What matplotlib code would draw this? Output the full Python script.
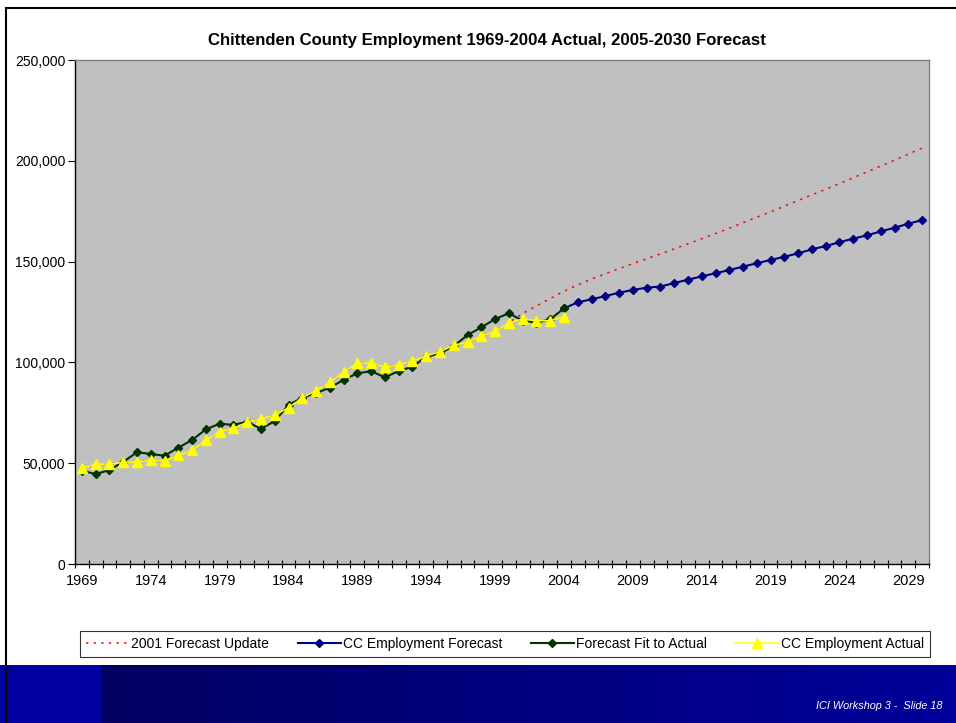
import numpy as np
import matplotlib
matplotlib.use("Agg")
import matplotlib.pyplot as plt
from matplotlib.lines import Line2D
from matplotlib.colors import LinearSegmentedColormap
from matplotlib.ticker import FuncFormatter

plt.rcParams['font.family'] = ['Liberation Sans', 'DejaVu Sans']

years = list(range(1969, 2031))

# CC employment, actual 1969-2004
actual_years = list(range(1969, 2005))
actual = [47500, 49600, 49600, 50400, 50600, 51400, 51300, 53900, 56400, 61500,
          65600, 67300, 70300, 71900, 73900, 77500, 82500, 86000, 90100, 95400,
          99600, 99700, 97600, 98700, 100800, 103200, 105300, 108500, 110100, 113100,
          115400, 119700, 121500, 120700, 120700, 122700]

# forecast model fitted to the actual years
fit = [46300, 44600, 46600, 50700, 55400, 54600, 53700, 57700, 61500, 66800,
       69600, 69000, 70600, 67000, 70900, 78900, 82500, 84700, 87500, 91300,
       94600, 95600, 92600, 95700, 97900, 102800, 104500, 108100, 113600, 117400,
       121500, 124400, 120700, 119700, 121400, 126800]

# current forecast, 2004-2030
forecast_years = list(range(2004, 2031))
forecast = [126800, 129800, 131300, 132900, 134600, 135900, 137100, 137600, 139400, 141000,
            142700, 144200, 145800, 147500, 149200, 150800, 152400, 154100, 156100, 157700,
            159600, 161400, 163000, 165000, 166800, 168800, 170600]

# 2001 forecast update: history through 2000, then projection 2001-2030
update_2001_on = [124300, 128000, 131700, 135300, 138500, 141300, 144000, 146500, 149000, 151400,
                  153800, 156300, 158800, 161300, 163900, 166600, 169300, 172000, 174700, 177500,
                  180300, 183100, 185900, 188700, 191600, 194500, 197400, 200300, 203300, 206300]
update_2001 = actual[:32] + update_2001_on

W, H = 956, 723
fig = plt.figure(figsize=(W / 100, H / 100), dpi=100)
fig.patch.set_facecolor('white')

ax = fig.add_axes([75 / W, 1 - 564 / H, (929 - 75) / W, 504 / H])
ax.set_facecolor('#C0C0C0')

red_line, = ax.plot(years, update_2001, color='#FF0000', lw=1.1,
                    linestyle=(0, (1.5, 3.5)), label='2001 Forecast Update', zorder=2)
blue_line, = ax.plot(forecast_years, forecast, color='#000080', lw=1.5, marker='D',
                     ms=3.8, mec='#000080', mfc='#000080', label='CC Employment Forecast', zorder=3)
green_line, = ax.plot(actual_years, fit, color='#003300', lw=1.5, marker='D',
                      ms=3.8, mec='#003300', mfc='#003300', label='Forecast Fit to Actual', zorder=4)
yellow_line, = ax.plot(actual_years, actual, color='#FFFF00', lw=1.1, marker='^',
                       ms=7, mec='#FFFF00', mfc='#FFFF00', label='CC Employment Actual', zorder=5)

ax.set_xlim(1968.5, 2030.5)
ax.set_ylim(0, 250000)
ax.set_yticks(np.arange(0, 250001, 50000))
ax.yaxis.set_major_formatter(FuncFormatter(lambda v, p: f'{int(v):,}'))
ax.tick_params(axis='y', direction='out', length=5, width=0.8, pad=2,
               labelsize=10, colors='black')

ax.set_xticks(np.arange(1969, 2031, 5))
ax.set_xticks(np.arange(1968.5, 2031, 1), minor=True)
ax.tick_params(axis='x', which='major', length=0, pad=7, labelsize=10.5)
ax.tick_params(axis='x', which='minor', direction='inout', length=6, width=0.8)

for side in ('top', 'right'):
    ax.spines[side].set_color('#808080')
    ax.spines[side].set_linewidth(1.0)
for side in ('left', 'bottom'):
    ax.spines[side].set_color('black')
    ax.spines[side].set_linewidth(1.0)

fig.text(487 / W, 1 - 40 / H,
         'Chittenden County Employment 1969-2004 Actual, 2005-2030 Forecast',
         ha='center', va='center', fontsize=12.1, fontweight='bold')

leg = fig.legend(handles=[red_line, blue_line, green_line, yellow_line],
                 loc='lower left', bbox_to_anchor=(80 / W, 1 - 657 / H, 850 / W, 30 / H),
                 mode='expand', ncol=4, fontsize=10, frameon=True, fancybox=False,
                 handlelength=3.1, handletextpad=0.15, borderaxespad=0, numpoints=1,
                 borderpad=0.45, edgecolor='black')
leg.get_frame().set_linewidth(0.8)

# slide footer band
band_h = (H - 665) / H
band = fig.add_axes([0, 0, 1, band_h])
band.set_axis_off()
band.set_xlim(0, W)
band.set_ylim(0, 1)
grad = np.linspace(0, 1, 256).reshape(1, -1)
cmap = LinearSegmentedColormap.from_list('band', ['#000060', '#000080', '#00009A'])
band.imshow(grad, extent=(100, W, 0, 1), aspect='auto', cmap=cmap)
band.add_patch(plt.Rectangle((0, 0), 100, 1, color='#0000A0'))
band.text(942, (723 - 706) / (H - 665), 'ICI Workshop 3 -  Slide 18', color='white',
          fontsize=7.8, style='italic', ha='right', va='center')

# outer frame lines
fig.add_artist(Line2D([6 / W, 6 / W], [0, 1 - 8 / H], color='black', lw=1.5))
fig.add_artist(Line2D([6 / W, 1], [1 - 8 / H, 1 - 8 / H], color='black', lw=1.5))

fig.savefig('out.png', dpi=100)
